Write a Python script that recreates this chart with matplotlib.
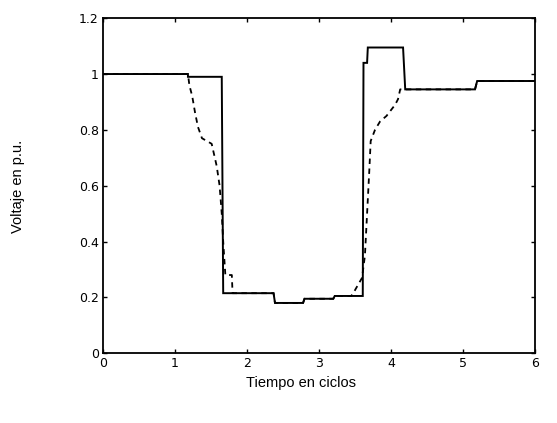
import matplotlib
matplotlib.use("Agg")
import matplotlib.pyplot as plt

# tiempo (ciclos) y voltaje (p.u.)
t_solid = [0, 1.18, 1.18, 1.65, 1.67, 2.37, 2.39, 2.78, 2.8, 3.2, 3.22, 3.61, 3.62,
           3.67, 3.68, 4.17, 4.2, 5.17, 5.2, 6.0]
v_solid = [1.0, 1.0, 0.99, 0.99, 0.215, 0.215, 0.18, 0.18, 0.195, 0.195, 0.205, 0.205, 1.04,
           1.04, 1.095, 1.095, 0.945, 0.945, 0.975, 0.975]

t_dash = [0, 1.18, 1.2, 1.24, 1.28, 1.32, 1.375, 1.51, 1.58, 1.62, 1.65, 1.67, 1.7, 1.79, 1.8,
          2.37, 2.39, 2.78, 2.8, 3.2, 3.22, 3.45, 3.5, 3.6, 3.64, 3.66, 3.68, 3.7, 3.72,
          3.78, 3.85, 3.94, 4.06, 4.1, 4.13, 4.2, 5.17, 5.2, 6.0]
v_dash = [1.0, 1.0, 0.96, 0.92, 0.86, 0.81, 0.77, 0.75, 0.67, 0.6, 0.5, 0.4, 0.28, 0.28, 0.215,
          0.215, 0.18, 0.18, 0.195, 0.195, 0.205, 0.205, 0.225, 0.27, 0.35, 0.45, 0.55, 0.65, 0.76,
          0.8, 0.83, 0.85, 0.89, 0.91, 0.945, 0.945, 0.945, 0.975, 0.975]

x_ticks = [0, 1, 2, 3, 4, 5, 6]
x_labels = ["0", "1", "2", "3", "4", "5", "6"]
y_ticks = [0, 0.2, 0.4, 0.6, 0.8, 1.0, 1.2]
y_labels = ["0", "0.2", "0.4", "0.6", "0.8", "1", "1.2"]

fig = plt.figure(figsize=(5.57, 4.23), dpi=100)
ax = fig.add_axes([0.185, 0.165, 0.775, 0.792])

ax.plot(t_solid, v_solid, color="black", lw=1.4, solid_joinstyle="miter")
ax.plot(t_dash, v_dash, color="black", lw=1.3, linestyle=(0, (3, 2.5)))

ax.set_xlim(0, 6)
ax.set_ylim(0, 1.2)
ax.set_xticks(x_ticks)
ax.set_xticklabels(x_labels)
ax.set_yticks(y_ticks)
ax.set_yticklabels(y_labels)
ax.tick_params(direction="in", length=3, width=1, labelsize=9, pad=3,
               top=True, right=True)
for s in ax.spines.values():
    s.set_linewidth(1.3)

fig.text(0.54, 0.095, "Tiempo en ciclos", ha="center", va="center",
         fontsize=10.5, family="Liberation Sans")
fig.text(0.033, 0.56, "Voltaje en p.u.", ha="center", va="center", rotation=90,
         fontsize=10.5, family="Liberation Sans")

fig.savefig("out.png", dpi=100)
